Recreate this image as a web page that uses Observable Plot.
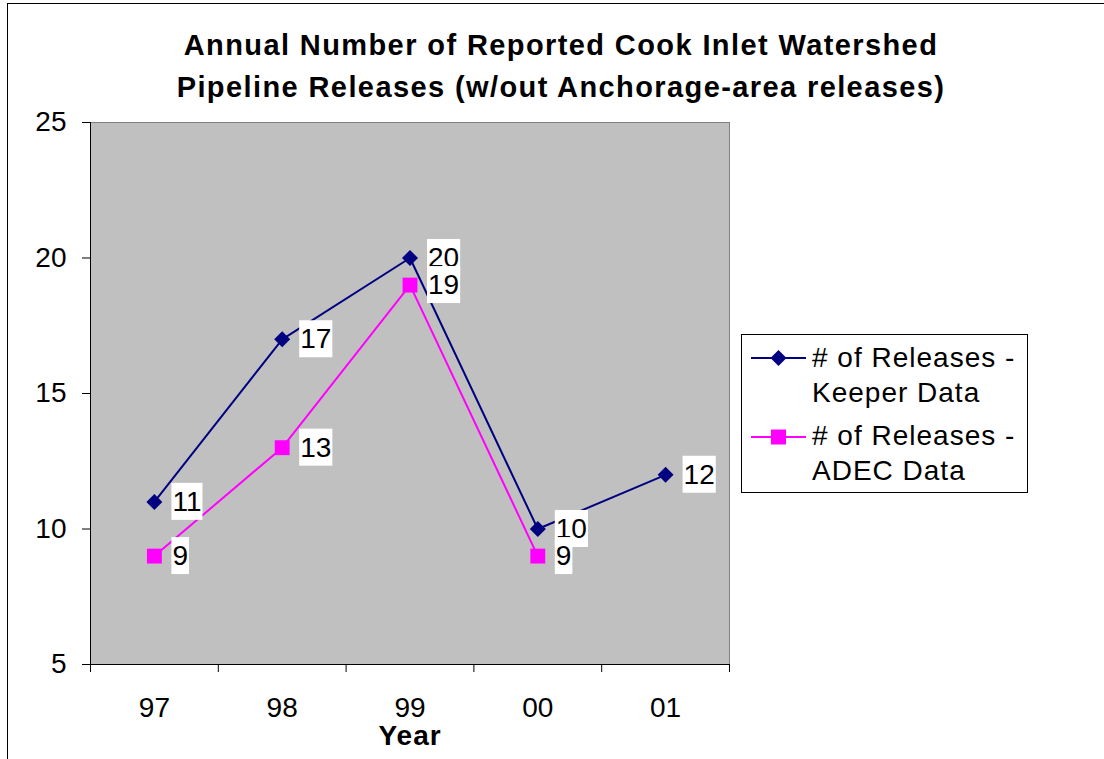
<!DOCTYPE html>
<html>
<head>
<meta charset="utf-8">
<script src="https://cdn.jsdelivr.net/npm/d3@7"></script>
<script src="https://cdn.jsdelivr.net/npm/@observablehq/plot@0.6"></script>
<style>
  html, body { margin: 0; padding: 0; background: #fff; overflow: hidden; }
  body { font-family: "Liberation Sans", Arial, sans-serif; }
  #wrap { position: relative; width: 1104px; height: 759px; overflow: hidden; }
  #border { position: absolute; left: 7px; top: 3px; width: 1200px; height: 900px; border: 1px solid #000; box-sizing: border-box; }
  #title { position: absolute; left: 0; top: 0; width: 1122px; text-align: center; font-weight: bold; font-size: 29px; letter-spacing: 1.4px; line-height: 42px; padding-top: 24px; color: #000; }
  #chart { position: absolute; left: 0; top: 0; }
  #legend { position: absolute; left: 741px; top: 334px; width: 287px; height: 159px; border: 1px solid #000; box-sizing: border-box; background: #fff; }
  #legend .t { position: absolute; left: 70px; font-size: 28px; letter-spacing: 1px; line-height: 35px; white-space: nowrap; color: #000; }
  #legend svg { position: absolute; left: 0; top: 0; }
</style>
</head>
<body>
<div id="wrap">
  <div id="border"></div>
  <div id="title"></div>
  <div id="chart"></div>
  <div id="legend"></div>
</div>
<script>
const titleLines = ["Annual Number of Reported Cook Inlet Watershed", "Pipeline Releases (w/out Anchorage-area releases)"];
const years = ["97", "98", "99", "00", "01"];
const keeperValues = [11, 17, 20, 10, 12];
const adecValues = [9, 13, 19, 9];
const yTicks = [5, 10, 15, 20, 25];
const seriesNames = ["# of Releases - Keeper Data", "# of Releases - ADEC Data"];
const xLabel = "Year";

const navy = "#000080";
const magenta = "#FF00FF";
const font = "'Liberation Sans', Arial, sans-serif";

document.getElementById("title").innerHTML = titleLines.join("<br>");

const keeperRows = keeperValues.map((v, i) => ({pos: i + 0.5, v}));
const adecRows = adecValues.map((v, i) => ({pos: i + 0.5, v}));
const boundaries = d3.range(years.length + 1);
const centers = years.map((_, i) => i + 0.5);

const chart = Plot.plot({
  width: 1104,
  height: 759,
  marginLeft: 90,
  marginRight: 375,
  marginTop: 122,
  marginBottom: 95,
  x: {domain: [0, years.length], axis: null},
  y: {domain: [5, 25], axis: null},
  style: {fontFamily: font, fontSize: "28px", color: "#000", background: "transparent", overflow: "visible"},
  marks: [
    Plot.frame({fill: "#C0C0C0", stroke: "#808080"}),
    Plot.axisY({ticks: yTicks, tickSize: 8, tickPadding: 16, label: null, fontSize: 28, stroke: "#000"}),
    Plot.axisX({ticks: boundaries, tickSize: 8, tickFormat: () => "", label: null, stroke: "#000"}),
    Plot.axisX({ticks: centers, tickSize: 0, tickPadding: 33, tickFormat: d => years[Math.floor(d)], label: null, fontSize: 28}),
    Plot.ruleX([0], {stroke: "#000"}),
    Plot.ruleY([5], {stroke: "#000"}),
    Plot.line(adecRows, {x: "pos", y: "v", stroke: magenta, strokeWidth: 2}),
    Plot.line(keeperRows, {x: "pos", y: "v", stroke: navy, strokeWidth: 2}),
    Plot.dot(adecRows, {x: "pos", y: "v", symbol: "square", r: 8.4, fill: magenta, stroke: "none"}),
    Plot.dot(keeperRows, {x: "pos", y: "v", symbol: "diamond2", r: 7.2, fill: navy, stroke: "none"}),
    Plot.text(keeperRows, {x: "pos", y: "v", text: d => String(d.v), textAnchor: "start", dx: 18, fontSize: 28, fill: "#000"}),
    Plot.text(adecRows, {x: "pos", y: "v", text: d => String(d.v), textAnchor: "start", dx: 18, fontSize: 28, fill: "#000"}),
    Plot.text([xLabel], {frameAnchor: "bottom", lineAnchor: "top", dy: 61, fontSize: 28, fontWeight: "bold", fill: "#000"})
  ]
});
document.getElementById("chart").appendChild(chart);

// the three text-mark groups, in mark order: keeper labels, adec labels, x label
const textGroups = Array.from(chart.querySelectorAll('g[aria-label="text"]'));
if (textGroups[2]) textGroups[2].querySelectorAll("text").forEach(t => t.setAttribute("letter-spacing", "1px"));

// white backgrounds behind data labels
textGroups.slice(0, 2).forEach(g => {
  Array.from(g.querySelectorAll("text")).forEach(t => {
    const bb = t.getBBox();
    const r = document.createElementNS("http://www.w3.org/2000/svg", "rect");
    r.setAttribute("x", bb.x - 1);
    r.setAttribute("y", bb.y - 3);
    r.setAttribute("width", bb.width + 2);
    r.setAttribute("height", bb.height + 6);
    r.setAttribute("fill", "#fff");
    r.setAttribute("stroke", "none");
    const tr = t.getAttribute("transform");
    if (tr) r.setAttribute("transform", tr);
    t.parentNode.insertBefore(r, t);
  });
});

// legend
const legend = d3.select("#legend");
const lsvg = legend.append("svg").attr("width", 287).attr("height", 159);
const entries = [
  {name: seriesNames[0], color: navy, sym: d3.symbolDiamond2, size: 163, cy: 23, ty: 5},
  {name: seriesNames[1], color: magenta, sym: d3.symbolSquare, size: 225, cy: 102, ty: 83}
];
entries.forEach(e => {
  lsvg.append("line").attr("x1", 9).attr("x2", 64).attr("y1", e.cy).attr("y2", e.cy).attr("stroke", e.color).attr("stroke-width", 2);
  lsvg.append("path").attr("d", d3.symbol(e.sym, e.size)()).attr("transform", `translate(36.5,${e.cy})`).attr("fill", e.color);
  const parts = e.name.split(" - ");
  legend.append("div").attr("class", "t").style("top", e.ty + "px").html(parts[0] + " -<br>" + parts[1]);
});
</script>
</body>
</html>
